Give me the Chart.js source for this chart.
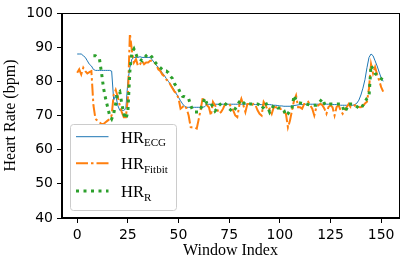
<!DOCTYPE html>
<html>
<head>
<meta charset="utf-8">
<script src="https://cdn.jsdelivr.net/npm/chart.js@4.4.0/dist/chart.umd.min.js"></script>
<style>
  body { margin: 0; background: #fff; }
  #wrap { width: 404px; height: 259px; position: relative; }
</style>
</head>
<body>
<div id="wrap"><canvas id="myChart"></canvas></div>
<script>
const hrEcg = [
  88, 88, 88, 87.5, 87, 86, 85, 84.5, 83.5, 83.2,
  83.2, 83.2, 83.2, 83.2, 83.2, 83.2, 83.2, 83, 74.5, 76,
  73, 71.5, 71.5, 71.5, 72, 80, 84, 86.5, 87, 87,
  87, 87.2, 87, 87, 87, 87, 87, 86.3, 85.5, 84.8,
  84, 83.3, 82.5, 81.7, 80.8, 80, 79.2, 78.3, 77.3, 76.3,
  75.3, 74.3, 73.4, 72.7, 72.4, 72.4, 72.4, 72.4, 72.4, 72.4,
  72.4, 72.4, 72.4, 72.6, 73.2, 73.3, 73.3, 73.3, 73.3, 73.3,
  73.3, 73.3, 73.3, 73.3, 73.3, 73.3, 73.3, 73.3, 73.3, 73.3,
  73.3, 73.3, 73.3, 73.3, 73.3, 73.3, 73.3, 73.3, 73.2, 73.2,
  73.2, 73.2, 73.2, 73.2, 73.2, 73.2, 73.1, 73, 73, 72.9,
  72.8, 72.8, 72.7, 72.7, 72.7, 72.7, 72.8, 72.9, 73, 73.1,
  73.2, 73.2, 73.2, 73.3, 73.3, 73.3, 73.3, 73.3, 73.3, 73.3,
  73.3, 73.3, 73.3, 73.3, 73.3, 73.3, 73.2, 73.2, 73.2, 73.1,
  73, 73, 73, 73, 73, 73, 73, 73.2, 73.6, 74.5,
  76, 78, 80.5, 84, 87, 88, 87.5, 86, 84.5, 82.7,
  81, 80
];

const hrFitbit = [
  82.5, 83.5, 82, 84, 83, 82.3, 82.7, 83, 73, 69,
  68.5, 68, 67.5, 67.5, 68, 68.5, 69, 70, 76, 77.5,
  75.5, 73, 71, 69.5, 69.5, 75, 94, 89, 85.5, 86.5,
  84.5, 85, 86, 85, 85.5, 85.5, 86, 86, 85.5, 85,
  83.5, 83, 82, 81.5, 80.5, 80, 79, 78, 77, 76.5,
  75, 72, 72.5, 73, 72, 70, 66.6, 66.5, 66.5, 66.2,
  69, 72, 75.4, 74, 73, 72.4, 70, 74, 73, 72,
  70.6, 71, 72, 73.4, 73.4, 73.4, 72.5, 71.5, 70, 69.5,
  73, 74.9, 73, 71, 73.4, 73.4, 73, 73.4, 73, 71.5,
  70.5, 70, 74, 73, 71.5, 72, 70.5, 72.4, 72.4, 72.4,
  72.4, 71.2, 71, 70.5, 66.5, 68.5, 71.5, 74.4, 75.9, 72.4,
  72.4, 72, 73.4, 73.4, 74, 73, 72, 70, 72.4, 73,
  73.4, 73, 72, 70.5, 72.5, 73, 72.4, 70, 72.5, 73,
  71.5, 70.5, 71.5, 72.5, 73.4, 72.4, 72.5, 73, 73, 72.5,
  72.4, 72.8, 73.5, 74, 78, 85, 82.3, 84.2, 82, 80.3,
  78.3, 77
];

const hrR = [
  null, null, null, null, null, null, null, null, 87.5, 87.5,
  87, 86.5, 82.5, 78, 75, 72.5, 70, 69, 70.5, 73.5,
  76.5, 77, 73.5, 70.5, 69, 71, 83, 88.5, 89.5, 88,
  86.5, 86.5, 86, 86.5, 87.5, 88, 87.8, 87, 86, 85.2,
  84.5, 84, 83.5, 83, 83, 82.5, 81.5, 80.8, 79.3, 78.5,
  77.8, 76.5, 75.6, 75.5, 75.2, 74.9, 73, 71.5, 71, 71,
  71, 72, 73.5, 75.1, 73.5, 73.2, 73.5, 72.5, 71.3, 72,
  73, 73.5, 74, 73.5, 73, 72, 71.5, 71, 72, 73,
  74, 74.6, 73.8, 73.2, 73.3, 73.4, 73.4, 73.4, 73.4, 73.4,
  73, 72, 72.5, 73.8, 72.5, 71, 72, 73, 72.8, 72.2,
  72.2, 72.1, 71.5, 70, 70.5, 71.5, 72, 75.9, 74.5, 73.9,
  73.7, 73.6, 73.5, 73.4, 73.2, 73, 73, 73, 73, 73.5,
  74.2, 74.9, 73.5, 73, 73.2, 73.4, 73.4, 73.4, 73.4, 73.4,
  73.4, 72.5, 71, 72, 73.4, 73.4, 73.4, 73, 72.6, 72.2,
  72, 73, 74, 75, 75.6, 84.7, 83.5, 82.3, 81.8, 81.3,
  80.8, 80.3
];

const xTicks = [0, 25, 50, 75, 100, 125, 150];
const yTicks = [40, 50, 60, 70, 80, 90, 100];

const legendItems = [
  { base: 'HR', sub: 'ECG', color: '#1f77b4', width: 1, dash: [] },
  { base: 'HR', sub: 'Fitbit', color: '#ff7f0e', width: 2, dash: [12, 3, 2.5, 3] },
  { base: 'HR', sub: 'R', color: '#2ca02c', width: 3, dash: [3, 4.5] }
];

function toPoints(arr) {
  return arr.map((v, i) => ({ x: i, y: v }));
}

const framePlugin = {
  id: 'frame',
  afterDatasetsDraw(chart) {
    const c = chart.ctx;
    const a = chart.chartArea;
    c.save();

    // legend box
    const bx = 70.5, by = 124.5, bw = 106, bh = 86, r = 3;
    c.beginPath();
    c.moveTo(bx + r, by);
    c.arcTo(bx + bw, by, bx + bw, by + bh, r);
    c.arcTo(bx + bw, by + bh, bx, by + bh, r);
    c.arcTo(bx, by + bh, bx, by, r);
    c.arcTo(bx, by, bx + bw, by, r);
    c.closePath();
    c.fillStyle = 'rgba(255,255,255,0.8)';
    c.fill();
    c.strokeStyle = '#cccccc';
    c.lineWidth = 1;
    c.stroke();

    const rows = [136.7, 163.3, 191];
    legendItems.forEach((it, i) => {
      const y = rows[i];
      c.beginPath();
      c.setLineDash(it.dash);
      c.lineWidth = it.width;
      c.strokeStyle = it.color;
      c.lineCap = 'butt';
      c.moveTo(76, y);
      c.lineTo(108.5, y);
      c.stroke();
      c.setLineDash([]);
      c.fillStyle = '#000';
      c.textBaseline = 'alphabetic';
      c.textAlign = 'left';
      c.font = '16.5px "Liberation Serif", serif';
      c.fillText(it.base, 121, y + 6);
      const w = c.measureText(it.base).width;
      c.font = '11px "Liberation Serif", serif';
      c.fillText(it.sub, 121 + w, y + 9.5);
    });

    // spines
    c.strokeStyle = '#000';
    c.lineWidth = 1;
    c.strokeRect(Math.round(a.left) - 0.5, Math.round(a.top) + 0.5,
      Math.round(a.right - a.left) + 1, Math.round(a.bottom - a.top) - 1);
    c.restore();
  }
};

const ctx = document.getElementById('myChart');

new Chart(ctx, {
  type: 'line',
  data: {
    datasets: [
      {
        label: 'HR_ECG',
        data: toPoints(hrEcg),
        borderColor: '#1f77b4',
        borderWidth: 1,
        order: 3
      },
      {
        label: 'HR_Fitbit',
        data: toPoints(hrFitbit),
        borderColor: '#ff7f0e',
        borderWidth: 2,
        borderDash: [12, 3, 2.5, 3],
        order: 2
      },
      {
        label: 'HR_R',
        data: toPoints(hrR),
        borderColor: '#2ca02c',
        borderWidth: 3,
        borderDash: [3, 4.5],
        borderCapStyle: 'butt',
        order: 1
      }
    ]
  },
  options: {
    responsive: true,
    maintainAspectRatio: false,
    animation: false,
    events: [],
    layout: { padding: { top: 13, right: 5, left: 0, bottom: 0 } },
    elements: {
      point: { radius: 0 },
      line: { tension: 0, fill: false }
    },
    plugins: {
      legend: { display: false },
      tooltip: { enabled: false }
    },
    scales: {
      x: {
        type: 'linear',
        min: -7.5,
        max: 158.8,
        afterFit(scale) { scale.height = 41; },
        afterBuildTicks(scale) { scale.ticks = xTicks.map(v => ({ value: v })); },
        grid: { drawOnChartArea: false, drawTicks: true, tickLength: 5, tickColor: '#000' },
        border: { display: true, color: '#000', width: 1 },
        ticks: {
          padding: 4,
          color: '#000',
          maxRotation: 0,
          font: { family: 'DejaVu Sans', size: 14 }
        },
        title: {
          display: true,
          text: 'Window Index',
          color: '#000',
          padding: { top: 0, bottom: 0 },
          font: { family: 'Liberation Serif', size: 16, lineHeight: 1 }
        }
      },
      y: {
        min: 40,
        max: 100,
        afterFit(scale) { scale.width = 62; },
        afterBuildTicks(scale) { scale.ticks = yTicks.map(v => ({ value: v })); },
        grid: { drawOnChartArea: false, drawTicks: true, tickLength: 5, tickColor: '#000' },
        border: { display: true, color: '#000', width: 1 },
        ticks: {
          padding: 4,
          color: '#000',
          font: { family: 'DejaVu Sans', size: 14 }
        },
        title: {
          display: true,
          text: 'Heart Rate (bpm)',
          color: '#000',
          padding: { top: 3, bottom: 0 },
          font: { family: 'Liberation Serif', size: 16, lineHeight: 1 }
        }
      }
    }
  },
  plugins: [framePlugin]
});
</script>
</body>
</html>
